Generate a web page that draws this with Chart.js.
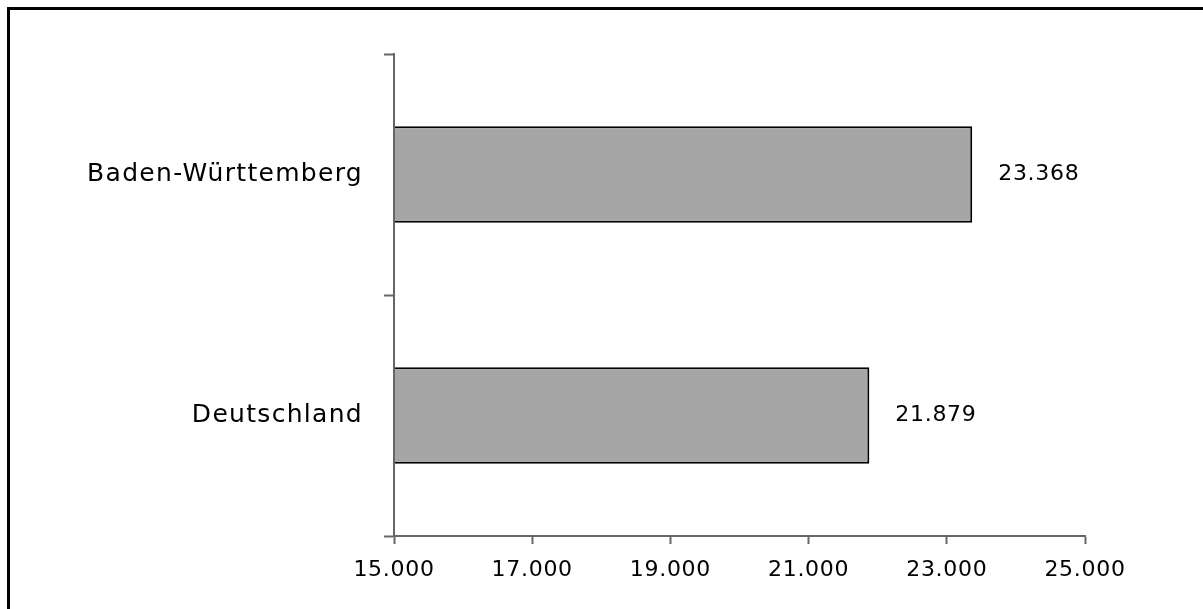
<!DOCTYPE html>
<html lang="de">
<head>
<meta charset="utf-8">
<title>Baden-Württemberg / Deutschland</title>
<script src="https://cdn.jsdelivr.net/npm/chart.js@4.4.1/dist/chart.umd.min.js"></script>
<style>
  html, body { margin: 0; padding: 0; background: #fff; overflow: hidden; }
  #wrap { position: relative; width: 1203px; height: 609px; overflow: hidden; }
  #frame { position: absolute; left: 7px; top: 7px; width: 1400px; height: 800px; border: 3px solid #000; pointer-events: none; }
</style>
</head>
<body>
<div id="wrap">
  <canvas id="chart"></canvas>
  <div id="frame"></div>
</div>
<script>
// data
const categories = ["Baden-Württemberg", "Deutschland"];
const values = [23368, 21879];
const xMin = 15000;
const xMax = 25000;
const xStep = 2000;

const axisGrey = "#666666";
const fontFamily = "'DejaVu Sans', sans-serif";

// 15000 -> "15.000"
function fmtDE(v) {
  return String(Math.round(v)).replace(/\B(?=(\d{3})+(?!\d))/g, ".");
}

// -----------------------------
// value labels + a little letter spacing (the reference text is wide)
// -----------------------------
const labelsPlugin = {
  id: "labelsPlugin",
  beforeDraw(chart) {
    chart.ctx.letterSpacing = "0.7px"; // x tick labels
  },
  afterDatasetsDraw(chart) {
    const ctx = chart.ctx;
    const meta = chart.getDatasetMeta(0);
    ctx.save();
    ctx.letterSpacing = "0.7px";
    ctx.font = "22px " + fontFamily;
    ctx.fillStyle = "#000";
    ctx.textAlign = "left";
    ctx.textBaseline = "middle";
    meta.data.forEach((bar, i) => {
      ctx.fillText(fmtDE(values[i]), bar.x + 26, bar.y);
    });
    ctx.restore();
    ctx.letterSpacing = "1.3px"; // y tick labels (drawn after datasets, ticks.z = 1)
  },
  afterDraw(chart) {
    chart.ctx.letterSpacing = "0px";
  }
};

new Chart(document.getElementById("chart"), {
  type: "bar",
  data: {
    labels: categories,
    datasets: [{
      data: values,
      backgroundColor: "#a6a6a6",
      borderColor: "#000",
      borderWidth: 2,
      barPercentage: 0.4,
      categoryPercentage: 1.0
    }]
  },
  options: {
    indexAxis: "y",
    responsive: true,
    maintainAspectRatio: false,
    animation: false,
    layout: { padding: { top: 54, right: 118, bottom: 0, left: 0 } },
    plugins: {
      legend: { display: false },
      tooltip: { enabled: false }
    },
    scales: {
      x: {
        min: xMin,
        max: xMax,
        ticks: {
          stepSize: xStep,
          callback: (v) => fmtDE(v),
          color: "#000",
          font: { family: fontFamily, size: 22 },
          padding: 13,
          maxRotation: 0,
          autoSkip: false
        },
        grid: { drawOnChartArea: false, drawTicks: true, tickLength: 8, tickColor: axisGrey, tickWidth: 2 },
        border: { display: true, color: axisGrey, width: 2 },
        afterFit: (s) => { s.height = 73; }
      },
      y: {
        ticks: {
          z: 1,
          color: "#000",
          font: { family: fontFamily, size: 25 },
          padding: 21
        },
        grid: { offset: true, drawOnChartArea: false, drawTicks: true, tickLength: 10, tickColor: axisGrey, tickWidth: 2 },
        border: { display: true, color: axisGrey, width: 2, z: 1 },
        afterFit: (s) => { s.width = 394; }
      }
    }
  },
  plugins: [labelsPlugin]
});
</script>
</body>
</html>
